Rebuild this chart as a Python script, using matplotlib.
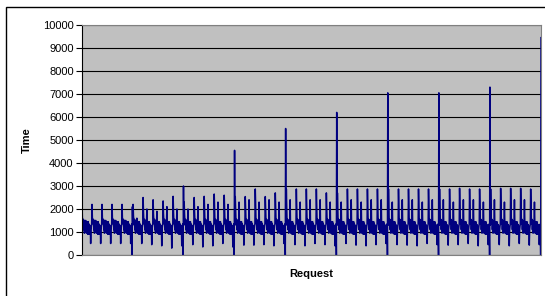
import matplotlib
matplotlib.use("Agg")
import matplotlib.pyplot as plt
import matplotlib.patches as patches
import numpy as np

plt.rcParams['font.family'] = ['Liberation Sans', 'DejaVu Sans']

# ---- values (ms per request) ----
# main peak of every cycle, 9 blocks of 5 cycles
cycle_peaks = [2200, 2200, 2200, 2200, 2200,
               2200, 2500, 2400, 2350, 2550,
               2300, 2500, 2550, 2650, 2600,
               2540, 2540, 2870, 2540, 2700,
               2870, 2870, 2870, 2870, 2700,
               2700, 2870, 2870, 2870, 2870,
               2870, 2870, 2870, 2870, 2870,
               2870, 2870, 2900, 2870, 2870,
               2870, 2900, 2900, 2900, 2870]
# shoulder just after the peak
cycle_shoulders = [1600, 1600, 1600, 1600, 1600,
                   1700, 1900, 1800, 1800, 1900,
                   1800, 1900, 2000, 2000, 2000,
                   2000, 2000, 2200, 2000, 2100,
                   2200, 2200, 2200, 2200, 2100,
                   2100, 2200, 2200, 2200, 2200,
                   2200, 2200, 2200, 2200, 2200,
                   2200, 2200, 2200, 2200, 2200,
                   2200, 2200, 2200, 2200, 2200]
# second bump inside each cycle
cycle_mids = [1500, 1500, 1500, 1500, 1500,
              1600, 2000, 1900, 2100, 2000,
              2000, 2100, 2200, 2300, 2200,
              2300, 2400, 2300, 2400, 2300,
              2400, 2300, 2400, 2400, 2300,
              2300, 2400, 2300, 2400, 2400,
              2300, 2400, 2400, 2300, 2400,
              2400, 2300, 2400, 2400, 2300,
              2400, 2300, 2400, 2400, 2300]
# lowest point of each cycle
cycle_dips = [500, 500, 500, 500, 500,
              500, 450, 400, 300, 400,
              450, 350, 400, 500, 350,
              430, 430, 450, 400, 500,
              450, 400, 500, 450, 400,
              500, 430, 400, 450, 500,
              450, 430, 400, 500, 450,
              430, 450, 500, 400, 450,
              450, 400, 500, 430, 450]
# noise between the peaks (same pattern every cycle)
noise_a = [1500, 1350, 1550, 1100, 1500, 950, 1450, 1000, 1500]
noise_b = [1400, 950, 1450, 1000, 1400, 900, 1450, 1000, 1350, 900, 1300, 1050, 1250]
noise_c = [1100, 1250, 1350]
# tall single requests at the end of each block
spike_tops = [2100, 3000, 4550, 5500, 6200, 7050, 7050, 7300, 9450]

times = []
for i in range(len(cycle_peaks)):
    times += [cycle_peaks[i], cycle_shoulders[i]] + noise_a + [cycle_mids[i]] + noise_b + [cycle_dips[i]] + noise_c
    if (i + 1) % 5 == 0:
        times += [0, spike_tops[i // 5]]
        if i + 1 < len(cycle_peaks):
            times += [1300]
times = np.array(times)
requests = np.arange(len(times))

fig = plt.figure(figsize=(5.45, 2.96), dpi=100)
ax = fig.add_axes([0.1505, 0.1385, 0.8422, 0.777])
ax.set_facecolor('#c0c0c0')
ax.plot(requests, times, color='#000080', lw=1.1)
ax.set_xlim(0, len(times) - 1)
ax.set_ylim(0, 10000)
ax.set_yticks(np.arange(0, 10001, 1000))
ax.set_xticks([])
ax.yaxis.grid(True, color='black', lw=0.8)
ax.set_axisbelow(True)
ax.tick_params(axis='y', labelsize=8, length=4, width=0.8, direction='out', pad=2)
for s in ['top', 'right', 'bottom']:
    ax.spines[s].set_color('#808080')
ax.spines['left'].set_color('black')
ax.set_ylabel('Time', fontsize=8, fontweight='bold', labelpad=8)
ax.set_xlabel('Request', fontsize=8, fontweight='bold', labelpad=10)

# chart frame (only left and top edges fall inside the picture)
fig.patches.append(patches.Rectangle((0.011, -0.2), 1.2, 1.176, transform=fig.transFigure,
                                     fill=False, edgecolor='black', lw=1))

fig.savefig('out.png', dpi=100)
